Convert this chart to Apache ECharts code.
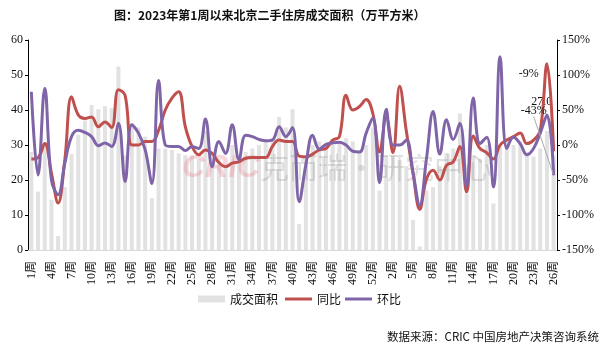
<!DOCTYPE html>
<html>
<head>
<meta charset="utf-8">
<script src="https://cdn.jsdelivr.net/npm/echarts@6/dist/echarts.min.js"></script>
<style>
  html, body { margin: 0; padding: 0; background: #fff; }
  #main { width: 616px; height: 351px; }
</style>
</head>
<body>
<div id="main"></div>
<script>
// 2023年1-53周, 2024年1-26周
const weeks = [
  '1周','2周','3周','4周','5周','6周','7周','8周','9周','10周',
  '11周','12周','13周','14周','15周','16周','17周','18周','19周','20周',
  '21周','22周','23周','24周','25周','26周','27周','28周','29周','30周',
  '31周','32周','33周','34周','35周','36周','37周','38周','39周','40周',
  '41周','42周','43周','44周','45周','46周','47周','48周','49周','50周',
  '51周','52周','53周',
  '1周','2周','3周','4周','5周','6周','7周','8周','9周','10周',
  '11周','12周','13周','14周','15周','16周','17周','18周','19周','20周',
  '21周','22周','23周','24周','25周','26周'
];

// 成交面积（万平方米）
const area = [
  28, 16.7, 30, 14.3, 4.0, 18, 27.4, 32.9, 37, 41.4,
  40.2, 41.1, 40.5, 52.4, 27, 36.2, 35, 32.4, 14.8, 29,
  29, 28.6, 27.6, 27.1, 27, 26, 34, 24, 26, 24,
  30, 25, 28, 29, 30, 31, 32, 38, 35, 40.2,
  7.4, 26, 30, 31, 30, 30, 31, 32, 31, 28,
  30, 35, 17, 27, 27, 25.7, 24, 8.6, 1.0, 17,
  18, 24, 27.7, 29, 39, 16, 27, 26, 30, 13.3,
  30, 31, 30, 31, 28, 26.7, 29, 34, 27.0
];

// 同比（%）
const yoy = [
  -20, -18, 2, -40, -83, -21, 69, 43, 38, 40,
  26, 33, 25, 79, 71, 0, 0, 5, 5, 21,
  50, 67, 76, 26, -2, -14, -7, -12, -25, -31,
  -26, -24, -19, -18, -18, -18, -2, 7, 5, 5,
  -16, -17, -13, -7, -5, 7, 12, 71, 50, 55,
  65, 45, -10, 40, -11, 84, 20, -40, -92, -49,
  -36, -50, -29, -24, -2, -67, 13, -5, -11, -20,
  0, 7, 12, 17, 2, 7, 21, 116, -9
];

// 环比（%）
const mom = [
  76, -43, 81, -50, -71, -26, 12, 21, 18, 12,
  -1, 3, -2, 31, -52, 29, 17, -7, -55, 92,
  0, -2, -2, -8, -2, -5, 37, -31, 5, -12,
  29, -21, 14, 12, 8, 6, 7, 26, 12, 25,
  -81, -28, 14, -6, 1, 3, 4, 0, -9, -10,
  17, 39, -54, 51, 0, 0, 7, -40, -86, -20,
  48, -13, 36, 8, 31, -60, 67, 2, 11, -60,
  126, -5, 11, 2, -14, -5, 17, 43, -43
];

const serif = '"Liberation Serif", "Noto Sans CJK SC", serif';
const cjk = '"Noto Sans CJK SC", sans-serif';

// only the last point of each series carries a value label
function lastLabel(arr, fmt, extra) {
  return arr.map((v, i) => i === arr.length - 1
    ? Object.assign({ value: v, label: { show: true, formatter: fmt } }, extra)
    : v);
}

const legendText = { fontFamily: cjk, fontSize: 12, color: '#111' };

const chart = echarts.init(document.getElementById('main'));
chart.setOption({
  animation: false,
  title: [{
    text: '图：2023年第1周以来北京二手住房成交面积（万平方米）',
    left: 109,
    top: 4,
    textStyle: { fontFamily: cjk, fontSize: 12, fontWeight: 'bold', color: '#111' }
  }, {
    text: '数据来源：CRIC 中国房地产决策咨询系统',
    right: 12,
    bottom: 4,
    textStyle: { fontFamily: cjk, fontSize: 11.5, fontWeight: 'normal', color: '#111' }
  }],
  // watermark
  graphic: [{
    type: 'text',
    left: 182, top: 152, z: 3,
    style: { text: 'CRIC', font: 'italic bold 32px "Liberation Sans", sans-serif', fill: 'rgba(230,110,130,0.28)' }
  }, {
    type: 'text',
    left: 260, top: 153, z: 3,
    style: { text: '克而瑞·研究中心', font: '29px "Noto Sans CJK SC", sans-serif', fill: 'rgba(130,130,130,0.25)' }
  }],
  legend: [{
    bottom: 41,
    left: 193,
    itemWidth: 27,
    itemHeight: 7,
    icon: 'rect',
    textStyle: legendText,
    data: ['成交面积']
  }, {
    bottom: 41,
    left: 280,
    itemGap: 4,
    itemWidth: 27,
    itemHeight: 3,
    icon: 'rect',
    textStyle: legendText,
    data: ['同比', '环比']
  }],
  grid: { left: 28, right: 59, top: 40, bottom: 101 },
  xAxis: {
    type: 'category',
    data: weeks,
    axisLine: { lineStyle: { color: '#d9d9d9' } },
    axisTick: { show: false },
    axisLabel: {
      interval: 2, rotate: 90, fontSize: 12, margin: 11,
      fontFamily: serif, color: '#111'
    }
  },
  yAxis: [{
    type: 'value', min: 0, max: 60, interval: 10,
    axisLine: { show: true, lineStyle: { color: '#000' } },
    axisTick: { show: true, length: 3, lineStyle: { color: '#000' } },
    splitLine: { show: false },
    axisLabel: { fontFamily: serif, fontSize: 12, color: '#111', margin: 5 }
  }, {
    type: 'value', min: -150, max: 150, interval: 50,
    axisLine: { show: true, lineStyle: { color: '#000' } },
    axisTick: { show: true, length: 3, lineStyle: { color: '#000' } },
    splitLine: { show: false },
    axisLabel: { fontFamily: serif, fontSize: 12, color: '#111', margin: 5, formatter: '{value}%' }
  }],
  series: [{
    name: '成交面积',
    type: 'bar',
    z: 2,
    barWidth: 4,
    itemStyle: { color: '#e2e2e2' },
    label: { position: 'top', fontFamily: serif, fontSize: 12, color: '#111' },
    labelLayout: { dx: -12, dy: -43 },
    data: lastLabel(area, p => p.value.toFixed(1))
  }, {
    name: '同比',
    type: 'line',
    z: 4,
    yAxisIndex: 1,
    smooth: 0.4,
    symbol: 'none',
    showAllSymbol: true,
    lineStyle: { width: 3, color: '#c0504d' },
    itemStyle: { color: '#c0504d' },
    label: { position: 'top', fontFamily: serif, fontSize: 12, color: '#111' },
    labelLayout: { dx: -25, dy: -66 },
    data: lastLabel(yoy, p => p.value + '%', { symbol: 'circle', symbolSize: 1 })
  }, {
    name: '环比',
    type: 'line',
    z: 4,
    yAxisIndex: 1,
    smooth: 0.4,
    symbol: 'none',
    showAllSymbol: true,
    lineStyle: { width: 3, color: '#7f64a8' },
    itemStyle: { color: '#7f64a8' },
    label: { position: 'top', fontFamily: serif, fontSize: 12, color: '#111' },
    labelLayout: { dx: -20, dy: -53 },
    labelLine: { show: true, lineStyle: { color: '#aaa', width: 1 } },
    data: lastLabel(mom, p => p.value + '%', { symbol: 'circle', symbolSize: 1 })
  }]
});
</script>
</body>
</html>
